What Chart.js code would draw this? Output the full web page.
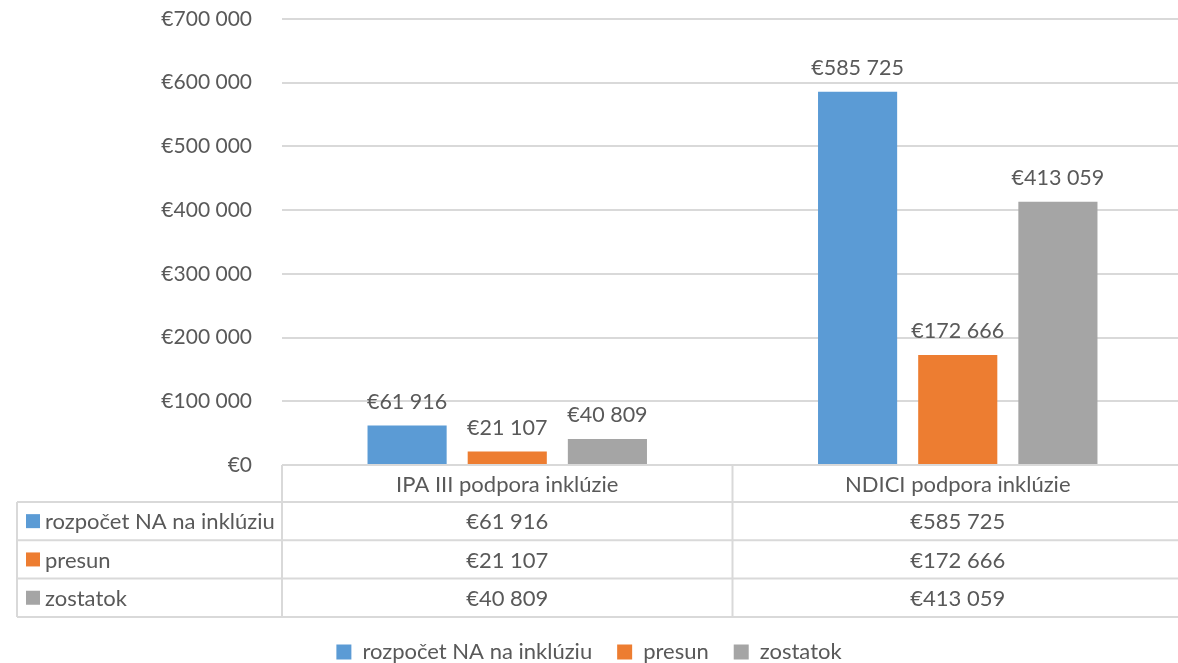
<!DOCTYPE html>
<html>
<head>
<meta charset="utf-8">
<script src="https://cdn.jsdelivr.net/npm/chart.js@4/dist/chart.umd.min.js"></script>
<style>
html,body{margin:0;padding:0;background:#fff;}
#wrap{width:1178px;height:663px;position:relative;}
</style>
</head>
<body>
<div id="wrap"><canvas id="c" width="1178" height="663"></canvas></div>
<script>
const categories = ["IPA III podpora inklúzie", "NDICI podpora inklúzie"];
const seriesNames = ["rozpočet NA na inklúziu", "presun", "zostatok"];
const budget = [61916, 585725];
const transfer = [21107, 172666];
const remainder = [40809, 413059];
const yTicks = [0, 100000, 200000, 300000, 400000, 500000, 600000, 700000];
const colors = ["#5b9bd5", "#ed7d31", "#a5a5a5"];

const FONT = "Lato, 'Open Sans', sans-serif";
const TXT = "#595959";
const LINE = "#d9d9d9";
const fmt = v => "€" + String(v).replace(/\B(?=(\d{3})+(?!\d))/g, " ");

const seriesData = [budget, transfer, remainder];

// plot area in the original runs slightly past the right image edge
const extendPlot = {
  id: "extendPlot",
  afterLayout(chart) {
    const extra = 5;
    const xs = chart.scales.x;
    chart.chartArea.right += extra;
    chart.chartArea.width += extra;
    xs.right += extra;
    xs.width += extra;
    xs.configure();
    chart.scales.y.configure();
  }
};

const tablePlugin = {
  id: "dataTable",
  afterDatasetsDraw(chart) {
    const ctx = chart.ctx;
    ctx.save();
    ctx.font = "21.5px " + FONT;
    ctx.fillStyle = TXT;
    ctx.textAlign = "center";
    ctx.textBaseline = "alphabetic";
    chart.data.datasets.forEach((ds, i) => {
      const meta = chart.getDatasetMeta(i);
      meta.data.forEach((bar, j) => {
        ctx.fillText(fmt(ds.data[j]), bar.x, bar.y - 17);
      });
    });
    ctx.restore();
  },
  afterDraw(chart) {
    const ctx = chart.ctx;
    const ca = chart.chartArea;
    const xs = chart.scales.x;
    const left = ca.left, right = chart.width;
    const c0 = xs.getPixelForValue(0), c1 = xs.getPixelForValue(1);
    const mid = (c0 + c1) / 2;
    const top = ca.bottom;
    const headerH = 37, rowH = 38.3;
    const rowsY = [top + headerH, top + headerH + rowH, top + headerH + 2 * rowH, top + headerH + 3 * rowH];
    const tableLeft = 17;
    ctx.save();
    ctx.strokeStyle = LINE;
    ctx.lineWidth = 2;
    const hline = (x1, x2, y) => { ctx.beginPath(); ctx.moveTo(x1, y); ctx.lineTo(x2, y); ctx.stroke(); };
    const vline = (x, y1, y2) => { ctx.beginPath(); ctx.moveTo(x, y1); ctx.lineTo(x, y2); ctx.stroke(); };
    hline(left, right, top);
    rowsY.forEach(y => hline(tableLeft, right, y));
    vline(left, top, rowsY[3]);
    vline(mid, top, rowsY[3]);
    vline(tableLeft, rowsY[0], rowsY[3]);

    ctx.font = "22px " + FONT;
    ctx.fillStyle = TXT;
    ctx.textBaseline = "middle";
    ctx.textAlign = "center";
    categories.forEach((cat, j) => {
      const cx = xs.getPixelForValue(j);
      ctx.fillText(cat, cx, top + headerH / 2 + 1);
      seriesData.forEach((arr, i) => {
        ctx.fillText(fmt(arr[j]), cx, rowsY[i] + rowH / 2 + 1);
      });
    });
    ctx.textAlign = "left";
    seriesNames.forEach((name, i) => {
      const cy = rowsY[i] + rowH / 2;
      ctx.fillStyle = colors[i];
      ctx.fillRect(26, cy - 7, 14, 14);
      ctx.fillStyle = TXT;
      ctx.fillText(name, 45, cy + 1);
    });
    ctx.restore();
  }
};

new Chart(document.getElementById("c"), {
  type: "bar",
  data: {
    labels: categories,
    datasets: seriesNames.map((n, i) => ({
      label: n,
      data: seriesData[i],
      backgroundColor: colors[i],
      borderWidth: 0,
      categoryPercentage: 0.667,
      barPercentage: 0.79
    }))
  },
  options: {
    responsive: false,
    animation: false,
    layout: { autoPadding: false, padding: { top: 19, right: 0, bottom: -10, left: 0 } },
    plugins: {
      legend: {
        position: "bottom",
        labels: {
          font: { family: FONT, size: 22 },
          color: TXT,
          boxWidth: 15,
          boxHeight: 15,
          padding: 25
        }
      },
      tooltip: { enabled: false }
    },
    scales: {
      x: {
        grid: { display: false, drawTicks: false },
        border: { display: false },
        ticks: { display: false },
        afterFit(scale) {
          scale.height = 151;
          scale.paddingLeft = 0; scale.paddingRight = 0;
        }
      },
      y: {
        min: 0,
        max: 700000,
        afterBuildTicks(scale) { scale.ticks = yTicks.map(v => ({ value: v })); },
        grid: { color: LINE, lineWidth: 2, drawTicks: false },
        border: { display: false },
        ticks: {
          font: { family: FONT, size: 21 },
          color: TXT,
          padding: 30,
          callback: v => fmt(v)
        },
        afterFit(scale) {
          scale.width = 282;
          scale.paddingTop = 0; scale.paddingBottom = 0;
        }
      }
    }
  },
  plugins: [extendPlot, tablePlugin]
});
</script>
</body>
</html>
